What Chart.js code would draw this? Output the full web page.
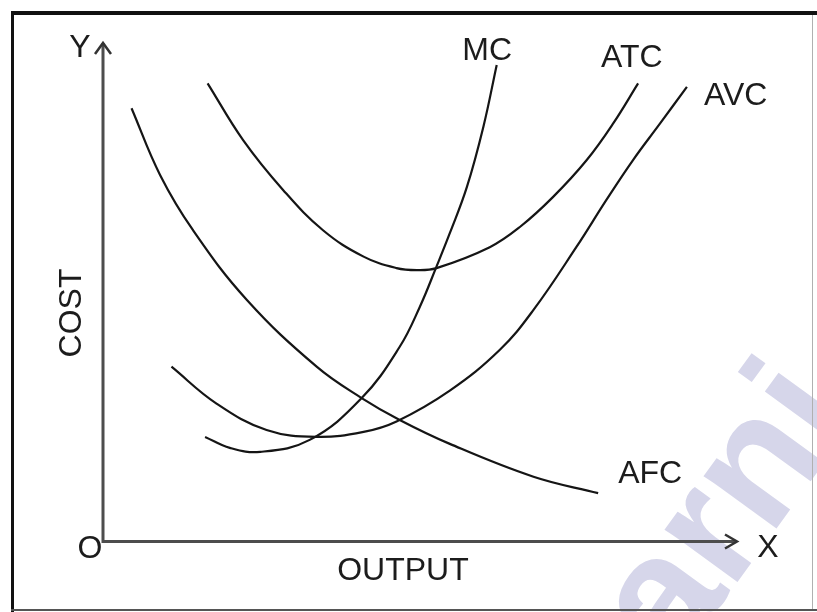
<!DOCTYPE html>
<html>
<head>
<meta charset="utf-8">
<script src="https://cdn.jsdelivr.net/npm/chart.js@4/dist/chart.umd.min.js"></script>
<style>
  html, body { margin: 0; padding: 0; background: #ffffff; }
  #wrap { width: 817px; height: 612px; position: relative; }
</style>
</head>
<body>
<div id="wrap"><canvas id="c" width="817" height="612"></canvas></div>
<script>
// ---- data (arbitrary units: output 0-100, cost 0-100) ----
const mcX  = [16.1, 20.0, 24.8, 32.6, 40.8, 46.8, 50.0, 52.6, 54.7, 57.4, 60.0, 62.1];
const mcY  = [20.7, 18.5, 17.7, 20.1, 28.5, 38.8, 46.9, 54.9, 61.6, 70.9, 83.0, 95.4];

const atcX = [16.5, 22.1, 28.4, 34.7, 41.1, 46.3, 49.5, 52.6, 61.0, 65.8, 71.0, 76.3, 80.5, 84.4];
const atcY = [91.7, 80.3, 70.3, 62.2, 56.9, 54.6, 54.2, 54.6, 58.8, 62.9, 68.9, 76.3, 83.7, 91.7];

const avcX = [10.8, 17.9, 25.8, 33.7, 41.1, 46.3, 54.7, 62.6, 67.9, 74.7, 79.4, 83.6, 87.9, 92.1];
const avcY = [34.8, 27.4, 22.1, 20.7, 21.7, 23.8, 30.0, 38.2, 46.2, 58.9, 68.3, 76.3, 83.7, 91.0];

const afcX = [4.5, 9.0, 14.2, 22.7, 33.7, 40.8, 46.8, 54.7, 67.9, 78.1];
const afcY = [86.7, 73.3, 62.2, 48.2, 34.8, 28.5, 24.1, 19.3, 12.7, 9.4];

const curveNames = ['MC', 'ATC', 'AVC', 'AFC'];
const axisLabels = { y: 'Y', x: 'X', origin: 'O', yTitle: 'COST', xTitle: 'OUTPUT' };
const watermarkText = 'arni';

function pts(xs, ys) { return xs.map((x, i) => ({ x: x, y: ys[i] })); }

const FONT = '"Liberation Sans", Arial, Helvetica, sans-serif';
const INK = '#1c1c1c';
const AXIS = '#4d4d4d';

// label anchor positions in data units (centre of text)
const labelPos = {
  MC:  [60.6, 98.2],
  ATC: [83.4, 96.8],
  AVC: [99.8, 89.2],
  AFC: [86.3, 13.3]
};

const decor = {
  id: 'decor',
  beforeDraw(chart) {
    const ctx = chart.ctx;
    ctx.save();
    ctx.fillStyle = '#ffffff';
    ctx.fillRect(0, 0, chart.width, chart.height);
    // watermark
    ctx.save();
    ctx.translate(675, 668);
    ctx.rotate(-54 * Math.PI / 180);
    ctx.font = 'bold 170px ' + FONT;
    ctx.fillStyle = 'rgb(214,214,234)';
    ctx.textBaseline = 'alphabetic';
    ctx.fillText(watermarkText, 0, 0);
    ctx.restore();
    // frame
    ctx.fillStyle = '#111111';
    ctx.fillRect(11, 11, 806, 4);
    ctx.fillRect(11, 11, 3, 601);
    ctx.fillStyle = '#555555';
    ctx.fillRect(11, 609, 806, 2);
    ctx.fillStyle = '#b0b0b0';
    ctx.fillRect(812, 15, 1, 594);
    ctx.restore();
  },
  afterDraw(chart) {
    const ctx = chart.ctx;
    const xs = chart.scales.x, ys = chart.scales.y;
    const x0 = xs.getPixelForValue(0), y0 = ys.getPixelForValue(0);
    const xEnd = xs.getPixelForValue(100), yTop = ys.getPixelForValue(100);
    ctx.save();
    // axes
    ctx.strokeStyle = AXIS;
    ctx.lineWidth = 3;
    ctx.lineCap = 'butt';
    ctx.beginPath();
    ctx.moveTo(x0, yTop + 1);
    ctx.lineTo(x0, y0 + 1.5);
    ctx.lineTo(xEnd - 1, y0 + 1.5);
    ctx.stroke();
    // arrow heads
    ctx.lineWidth = 2.5;
    ctx.strokeStyle = '#333333';
    ctx.lineJoin = 'miter';
    ctx.beginPath();
    ctx.moveTo(x0 - 8, yTop + 12);
    ctx.lineTo(x0, yTop + 1);
    ctx.lineTo(x0 + 8, yTop + 12);
    ctx.stroke();
    ctx.beginPath();
    ctx.moveTo(xEnd - 12, y0 + 1.5 - 7);
    ctx.lineTo(xEnd, y0 + 1.5);
    ctx.lineTo(xEnd - 12, y0 + 1.5 + 7);
    ctx.stroke();
    // texts
    ctx.fillStyle = INK;
    ctx.font = '32px ' + FONT;
    ctx.textAlign = 'center';
    ctx.textBaseline = 'middle';
    ctx.fillText(axisLabels.y, x0 - 23, yTop + 6);
    ctx.fillText(axisLabels.origin, x0 - 13, y0 + 9);
    ctx.fillText(axisLabels.x, xEnd + 31, y0 + 8);
    ctx.fillText(axisLabels.xTitle, 403, y0 + 31);
    ctx.save();
    ctx.translate(x0 - 31, 313);
    ctx.rotate(-Math.PI / 2);
    ctx.fillText(axisLabels.yTitle, 0, 0);
    ctx.restore();
    curveNames.forEach(n => {
      const p = labelPos[n];
      ctx.fillText(n, xs.getPixelForValue(p[0]), ys.getPixelForValue(p[1]));
    });
    ctx.restore();
  }
};

const lineStyle = {
  borderColor: '#151515',
  borderWidth: 2.2,
  pointRadius: 0,
  pointHoverRadius: 0,
  fill: false,
  tension: 0.4
};

new Chart(document.getElementById('c'), {
  type: 'line',
  data: {
    datasets: [
      Object.assign({ label: curveNames[0], data: pts(mcX, mcY) }, lineStyle),
      Object.assign({ label: curveNames[1], data: pts(atcX, atcY) }, lineStyle),
      Object.assign({ label: curveNames[2], data: pts(avcX, avcY) }, lineStyle),
      Object.assign({ label: curveNames[3], data: pts(afcX, afcY) }, lineStyle)
    ]
  },
  options: {
    responsive: false,
    animation: false,
    devicePixelRatio: 1,
    layout: { padding: { left: 103, right: 80, top: 42, bottom: 72 } },
    plugins: { legend: { display: false }, tooltip: { enabled: false }, title: { display: false } },
    scales: {
      x: { type: 'linear', min: 0, max: 100, display: false },
      y: { type: 'linear', min: 0, max: 100, display: false }
    }
  },
  plugins: [decor]
});
</script>
</body>
</html>
